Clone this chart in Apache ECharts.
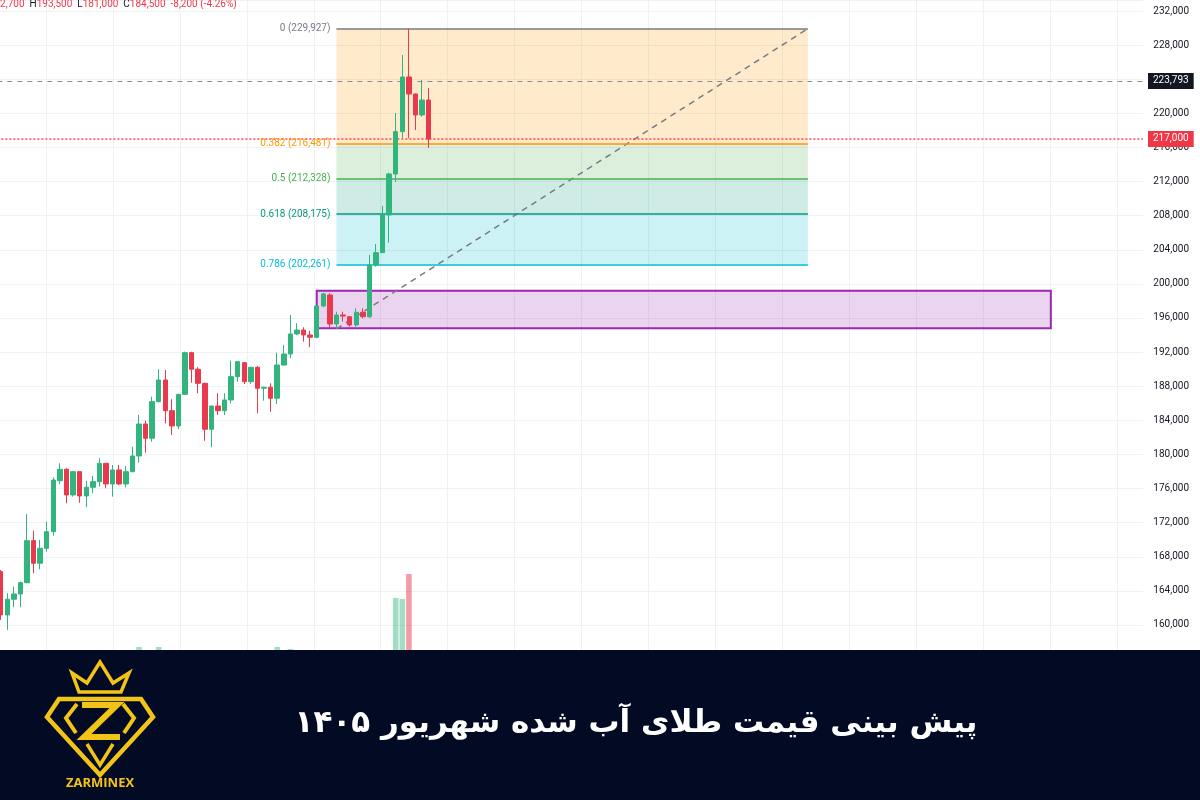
<!DOCTYPE html>
<html><head><meta charset="utf-8">
<script src="https://cdn.jsdelivr.net/npm/echarts@6/dist/echarts.min.js"></script>
<style>html,body{margin:0;padding:0;background:#fff}#c{width:1200px;height:800px}</style>
</head><body><div id="c"></div>
<script>
// ---------- data ----------
const barCount = 174; // slots on the time axis (66 traded bars + empty future space)
const categories = Array.from({length: barCount}, (_, i) => 'B' + (i + 1));

const opens  = [166250,161180,163020,163640,164960,169890,167240,168990,170940,176920,
                178260,175250,177980,175130,176150,176810,178960,176540,178180,176540,
                177980,179820,183570,181900,186190,188730,185130,183340,187050,191930,
                189990,188340,182950,185680,185130,186390,189120,190760,188530,190220,
                187760,187880,186590,190490,191780,194130,194590,194010,193740,197410,
                198700,195300,196350,196150,195180,196670,196150,202220,203660,208080,
                212890,217850,224260,222270,219810,221560];
const closes = [161180,163020,163640,164960,169890,167240,168990,170940,177000,178260,
                175250,177980,175130,176150,176810,178960,176540,178180,176540,177980,
                179820,183570,181900,186190,188730,185130,183340,187050,191930,189990,
                188340,182950,185680,185130,186390,189120,190880,188530,190220,187760,
                187880,186590,190490,191780,194130,194590,194010,193740,197410,198820,
                195300,196350,196230,195180,196670,196150,202220,203660,208080,212890,
                217850,224260,222270,219810,221560,217000];
const lows   = [160600,159420,162080,162080,164900,166060,166530,168600,170470,176540,
                174270,175050,174340,173800,175450,176220,176030,175050,176400,176150,
                177900,179030,180210,181500,186100,183650,182280,182950,187000,188410,
                187170,181610,180840,184630,184630,186000,188530,188260,188260,184830,
                186300,185010,185920,190400,191280,194010,193220,192570,193620,197260,
                194910,194730,195570,194980,194980,195970,196000,202020,203620,204830,
                211980,217110,217070,218050,219600,215940];
const highs  = [166450,163720,164490,165080,173020,171060,169970,172120,177320,178960,
                178380,178000,178000,176920,177470,179550,179000,178760,178760,178650,
                180910,184630,183960,186770,189990,189900,186470,187100,192050,192050,
                190220,188400,185700,187170,187170,191000,190950,190800,190250,190370,
                187950,188340,191930,192840,196350,195380,194910,194510,197450,198970,
                198900,196740,196740,196230,197140,197140,203390,204680,209130,213040,
                220040,226840,229927,222300,223910,222970];
// relative volume (only a few bars rise above the banner)
const volumes = [6,5,4,5,9,6,5,6,9,5,
                 6,5,6,5,4,6,5,5,4,5,
                 7,13,7,9,13,8,7,8,9,7,
                 6,9,8,5,5,8,6,6,5,7,
                 4,5,13,8,11,5,5,6,8,7,
                 9,6,4,5,6,5,9,8,9,9,
                 62,61,86,9,8,9];

// price scale: the visible pane runs from 156,000 (under the banner) to 233,290 at the top edge
const yMin = 156000, yMax = 233290, yStep = 4000;

const fibRatios = [0, 0.382, 0.5, 0.618, 0.786];
const fibPrices = [229927, 216481, 212328, 208175, 202261];
const fibLow = 194728;
const fibStartBar = 51, fibEndBar = 122.6;

const zoneStartBar = 48, zoneEndBar = 159.5;
const zoneTop = 199190, zoneBottom = 194800;

const markPrice = 223793;   // grey dashed level
const lastPrice = 217000;   // red dotted last price

const header = [['O','192,700'],['H','193,500'],['L','181,000'],['C','184,500']];
const headerChange = '-8,200 (-4.26%)';
const titleText = 'پیش بینی قیمت طلای آب شده شهریور ۱۴۰۵';
const brandText = 'ZARMINEX';

// ---------- styles ----------
const UP = '#31b47d', DOWN = '#e8394d';
const fibLineColors = ['#787b86','#ff9800','#4caf50','#089981','#00bcd4'];
const fibFillColors = ['rgba(255,152,0,0.2)','rgba(76,175,80,0.2)','rgba(8,153,129,0.2)','rgba(0,188,212,0.2)'];
const GOLD = '#f2c417';
const fmt = v => v.toLocaleString('en-US');

const candleData = opens.map((o, i) => [o, closes[i], lows[i], highs[i]]);
const volData = volumes.map((v, i) => ({
  value: v,
  itemStyle: { color: closes[i] >= opens[i] ? 'rgba(49,180,125,0.45)' : 'rgba(232,57,77,0.5)' }
}));

const fibLines = fibRatios.map((r, k) => [
  { coord: [fibStartBar, fibPrices[k]],
    lineStyle: { color: fibLineColors[k], width: 1.5, type: 'solid' },
    label: { show: true, position: 'start', distance: 6, color: fibLineColors[k],
             fontSize: 10, fontFamily: 'Roboto',
             formatter: r + ' (' + fmt(fibPrices[k]) + ')' } },
  { coord: [fibEndBar, fibPrices[k]] }
]);
const fibAreas = fibFillColors.map((c, k) => [
  { coord: [fibStartBar, fibPrices[k]], itemStyle: { color: c } },
  { coord: [fibEndBar, fibPrices[k + 1]] }
]);

function priceLine(value, color, width, type, bg) {
  return [
    { coord: [-0.5, value], lineStyle: { color: color, width: width, type: type, opacity: 1 },
      label: { show: true, position: 'end', distance: 5, formatter: fmt(value), color: '#fff',
               backgroundColor: bg, padding: [3, 5, 3, 5], fontSize: 10, fontFamily: 'Roboto' } },
    { coord: [barCount - 0.5, value] }
  ];
}

const W = 1200;
const gridLeft = -2.6, gridRight = 57;
const priceTop = 0, priceBottom = 140.9;

let headerStr = '';
header.forEach(([k, v]) => { headerStr += '{l|' + k + '}{v|' + v + '}  '; });
headerStr += '{v|' + headerChange + '}';

const chart = echarts.init(document.getElementById('c'), null, { renderer: 'canvas' });
chart.setOption({
  animation: false,
  backgroundColor: '#ffffff',
  grid: [
    { left: gridLeft, right: gridRight, top: priceTop, bottom: priceBottom, containLabel: false, outerBoundsMode: 'none' },
    { left: gridLeft, right: gridRight, top: 560, bottom: 140, containLabel: false, outerBoundsMode: 'none' },
    { left: 46, right: 83, top: 0, bottom: 150, containLabel: false, outerBoundsMode: 'none' }
  ],
  xAxis: [
    { type: 'category', gridIndex: 0, data: categories, boundaryGap: true,
      axisLine: { show: false }, axisTick: { show: false }, axisLabel: { show: false }, splitLine: { show: false } },
    { type: 'value', gridIndex: 0, min: -0.5, max: barCount - 0.5, show: false },
    { type: 'category', gridIndex: 1, data: categories, boundaryGap: true, show: false },
    { type: 'value', gridIndex: 2, min: 0, max: 16, interval: 1,
      axisLine: { show: false }, axisTick: { show: false }, axisLabel: { show: false },
      splitLine: { show: true, lineStyle: { color: '#eff1f4', width: 1 } } }
  ],
  yAxis: [
    { type: 'value', gridIndex: 0, position: 'right', min: yMin, max: yMax, interval: yStep,
      axisLine: { show: false }, axisTick: { show: false },
      axisLabel: { show: true, align: 'right', margin: 46, color: '#131722', fontSize: 10, fontFamily: 'Roboto',
                   formatter: v => (v % yStep === 0 ? fmt(v) : '') },
      splitLine: { show: true, lineStyle: { color: '#eff1f4', width: 1 } } },
    { type: 'value', gridIndex: 1, min: 0, max: 100, show: false },
    { type: 'value', gridIndex: 2, min: 0, max: 1, show: false }
  ],
  series: [
    {
      type: 'line', xAxisIndex: 1, yAxisIndex: 0, z: 1,
      data: [[fibStartBar, fibLow], [fibEndBar, fibPrices[0]]],
      symbol: 'none', silent: true,
      lineStyle: { color: '#787b86', width: 1.5, type: [6, 5] },
      markArea: { silent: true, data: fibAreas.concat([[
        { coord: [zoneStartBar, zoneTop], itemStyle: { color: 'rgba(156,39,176,0.2)', borderColor: '#9c27b0', borderWidth: 2 } },
        { coord: [zoneEndBar, zoneBottom] }
      ]]) },
      markLine: { silent: true, symbol: ['none', 'none'], data: fibLines }
    },
    {
      type: 'candlestick', xAxisIndex: 0, yAxisIndex: 0, z: 5,
      data: candleData, barWidth: '75%',
      itemStyle: { color: UP, color0: DOWN, borderColor: UP, borderColor0: DOWN, borderWidth: 1 }
    },
    { // horizontal price lines
      type: 'line', xAxisIndex: 1, yAxisIndex: 0, z: 6, data: [], symbol: 'none', silent: true,
      color: '#f23645',
      markLine: { silent: true, symbol: ['none', 'none'],
        data: [ priceLine(markPrice, '#8a8d96', 1, [5, 5], '#131722'),
                priceLine(lastPrice, '#f7445a', 1.5, [2, 2], '#f23645') ] }
    },
    {
      type: 'bar', xAxisIndex: 2, yAxisIndex: 1, z: 2,
      data: volData, barWidth: '85%', silent: true
    }
  ],
  graphic: [
    { type: 'text', z: 50, x: -18, y: 4,
      style: { text: headerStr, font: '10px Roboto', verticalAlign: 'middle', align: 'left',
               rich: { l: { fill: '#131722', font: '10px Roboto' }, v: { fill: '#f23645', font: '10px Roboto' } } } },
    { type: 'rect', z: 100, shape: { x: 0, y: 650, width: W, height: 150 }, style: { fill: '#020a24' } },
    { type: 'text', z: 101, x: 636, y: 724,
      style: { text: titleText, fill: '#ffffff', font: 'bold 31px "DejaVu Sans"', align: 'center', verticalAlign: 'middle' } },
    { type: 'polygon', z: 101, shape: { points: [[79,692],[72,673],[87,683],[100,662],[113,683],[129,673],[121,692]] },
      style: { fill: 'none', stroke: GOLD, lineWidth: 3.5, lineJoin: 'miter' } },
    { type: 'polygon', z: 101, shape: { points: [[59,699],[141,699],[153,717],[100,775],[47,717]] },
      style: { fill: 'none', stroke: GOLD, lineWidth: 4.5, lineJoin: 'miter' } },
    { type: 'polyline', z: 101, shape: { points: [[77,704],[66,718],[76,733]] }, style: { fill: 'none', stroke: GOLD, lineWidth: 4 } },
    { type: 'polyline', z: 101, shape: { points: [[123,704],[134,718],[124,733]] }, style: { fill: 'none', stroke: GOLD, lineWidth: 4 } },
    { type: 'polyline', z: 101, shape: { points: [[82,705],[117,705],[84,737],[120,737]] },
      style: { fill: 'none', stroke: GOLD, lineWidth: 6, lineJoin: 'miter' } },
    { type: 'polyline', z: 101, shape: { points: [[87,744],[100,765],[113,744]] }, style: { fill: 'none', stroke: GOLD, lineWidth: 3.5 } },
    { type: 'text', z: 101, x: 100, y: 783,
      style: { text: brandText, fill: GOLD, font: 'bold 13px "Open Sans"', align: 'center', verticalAlign: 'middle' } }
  ]
});
</script>
</body></html>
